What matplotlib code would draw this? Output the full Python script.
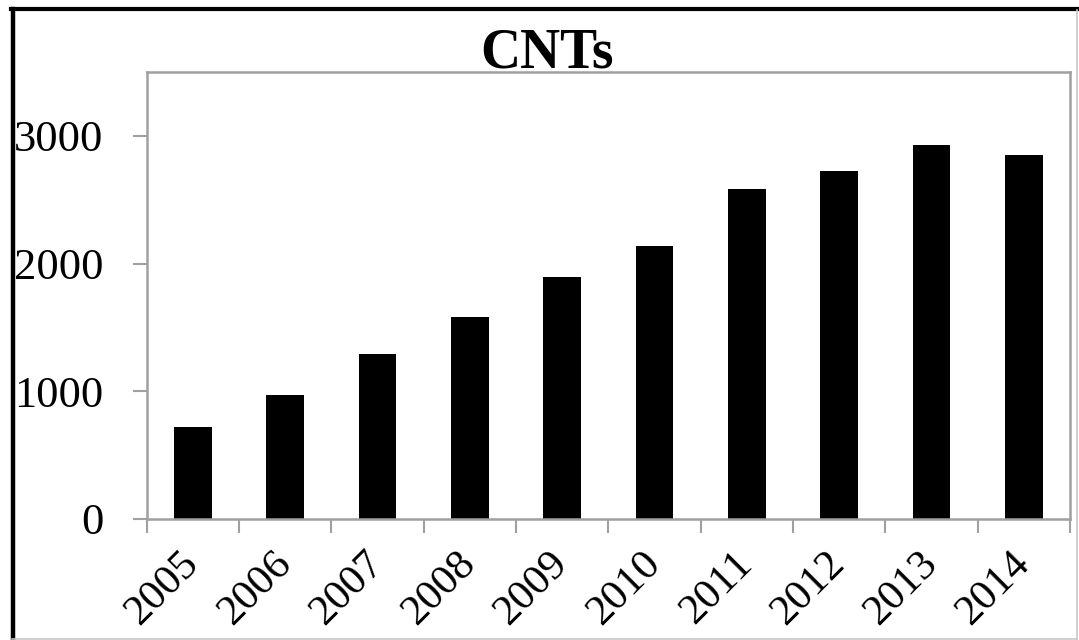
import matplotlib
matplotlib.use("Agg")
import matplotlib.pyplot as plt
from matplotlib.lines import Line2D
import numpy as np

years = ["2005", "2006", "2007", "2008", "2009", "2010", "2011", "2012", "2013", "2014"]
counts = [723, 969, 1290, 1584, 1897, 2138, 2587, 2727, 2929, 2850]
yticks = [0, 1000, 2000, 3000]
title = "CNTs"

plt.rcParams['font.family'] = ['Liberation Serif', 'DejaVu Serif']

fig = plt.figure(figsize=(10.79, 6.40), dpi=100)
ax = fig.add_axes([146.7 / 1079, 1 - 519 / 640, (1070 - 146.7) / 1079, (519 - 72) / 640])

x = np.arange(len(years))
ax.bar(x, counts, width=0.41, color='black', zorder=2)

ax.set_xlim(-0.5, len(years) - 0.5)
ax.set_ylim(0, 3500)

frame_color = '#a0a0a0'
for s in ax.spines.values():
    s.set_color(frame_color)
    s.set_linewidth(1.8)

ax.set_yticks(yticks)
ax.set_yticklabels([str(v) for v in yticks])
ax.tick_params(axis='y', direction='out', length=10, width=1.5, color=frame_color,
               labelsize=32, pad=21)

ax.set_xticks(x)
ax.set_xticklabels(years, rotation=45, ha='right', va='center', rotation_mode='anchor')
ax.set_xticks(np.arange(len(years) + 1) - 0.5, minor=True)
ax.tick_params(axis='x', which='major', length=0, labelsize=31, pad=28)
ax.tick_params(axis='x', which='minor', direction='out', length=10, width=1.5, color=frame_color)

fig.text(547 / 1079, 1 - 68 / 640, title, ha='center', va='baseline',
         fontsize=40, fontweight='bold')

# outer frame decorations
W, H = 1079, 640
fig.add_artist(Line2D([12.5 / W, 12.5 / W], [0, 1 - 8.5 / H], transform=fig.transFigure,
                      color='black', linewidth=3.2))
fig.add_artist(Line2D([11 / W, 1], [1 - 8.5 / H, 1 - 8.5 / H], transform=fig.transFigure,
                      color='black', linewidth=3.0))
fig.add_artist(Line2D([1077 / W, 1077 / W], [0, 1 - 10 / H], transform=fig.transFigure,
                      color='#c8c8c8', linewidth=1.2))
fig.add_artist(Line2D([12 / W, 1077 / W], [1.5 / H, 1.5 / H], transform=fig.transFigure,
                      color='#c8c8c8', linewidth=1.2))

fig.savefig("out.png", dpi=100)
